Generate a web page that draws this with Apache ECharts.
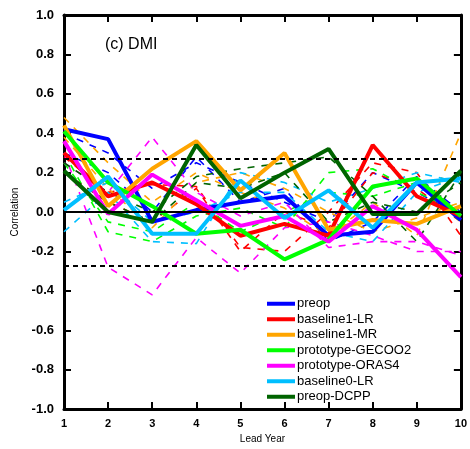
<!DOCTYPE html>
<html><head><meta charset="utf-8">
<script src="https://cdn.jsdelivr.net/npm/echarts@6/dist/echarts.min.js"></script>
<style>html,body{margin:0;padding:0;background:#fff}#c{width:470px;height:449px}</style>
</head><body><div id="c"></div>
<script>
const leadYears = [1,2,3,4,5,6,7,8,9,10];
const sigLevel = 0.265;
const panelTitle = '(c) DMI';

// thick lines (ensemble means)
const preop      = [0.42, 0.37, -0.05, 0.01, 0.05, 0.08, -0.12, -0.10, 0.15, -0.04];
const base1LR    = [0.30, 0.08, 0.15, 0.04, -0.12, -0.06, -0.12, 0.34, 0.08, -0.02];
const base1MR    = [0.44, 0.03, 0.22, 0.36, 0.11, 0.30, -0.09, -0.04, -0.06, 0.03];
const protoGEC   = [0.41, 0.15, 0.03, -0.11, -0.09, -0.24, -0.14, 0.13, 0.17, -0.02];
const protoORAS  = [0.36, -0.01, 0.19, 0.06, -0.07, -0.02, -0.15, 0.03, -0.09, -0.33];
const base0LR    = [0.01, 0.18, -0.11, -0.11, 0.16, -0.03, 0.11, -0.08, 0.15, 0.17];
const preopDCPP  = [0.21, 0.00, -0.05, 0.34, 0.07, 0.20, 0.32, -0.01, -0.01, 0.21];

// thin dashed lines (members)
const preopM1     = [0.40, 0.30, 0.12, 0.25, 0.15, 0.05, -0.05, 0.20, 0.10, -0.02];
const preopM2     = [0.30, 0.20, 0.00, 0.28, 0.05, 0.12, -0.15, -0.05, 0.18, 0.00];
const base1LRM1   = [0.28, 0.10, 0.14, 0.13, -0.18, -0.20, 0.00, 0.25, 0.20, -0.12];
const base1LRM2   = [0.20, 0.05, -0.05, 0.12, -0.20, 0.00, -0.08, 0.20, 0.12, -0.05];
const base1MRM1   = [0.48, 0.25, 0.05, 0.20, 0.10, 0.02, -0.12, 0.05, -0.12, 0.40];
const base1MRM2   = [0.38, 0.12, -0.08, 0.15, 0.20, 0.12, 0.00, -0.10, -0.03, 0.05];
const protoGECM1  = [0.30, -0.10, -0.15, -0.02, 0.02, -0.08, 0.20, 0.22, 0.10, 0.00];
const protoGECM2  = [0.25, -0.05, -0.10, 0.05, -0.10, 0.00, 0.10, 0.08, 0.15, -0.05];
const protoORASM1 = [0.30, -0.28, -0.42, -0.13, -0.31, -0.08, -0.05, -0.12, -0.20, -0.20];
const protoORASM2 = [0.25, 0.10, 0.38, 0.10, -0.02, 0.05, -0.18, -0.15, -0.15, -0.22];
const base0LRM1   = [-0.10, 0.10, -0.15, -0.16, 0.20, 0.15, 0.05, 0.12, 0.20, 0.15];
const base0LRM2   = [0.05, 0.15, -0.05, 0.00, 0.10, 0.10, -0.10, -0.15, 0.10, 0.18];
const dcppM1      = [0.25, 0.10, 0.00, 0.18, 0.22, 0.25, 0.28, 0.08, -0.15, 0.20];
const dcppM2      = [0.20, 0.05, -0.05, 0.15, 0.12, 0.20, -0.05, 0.05, 0.00, 0.15];

const names  = ['preop','baseline1-LR','baseline1-MR','prototype-GECOO2','prototype-ORAS4','baseline0-LR','preop-DCPP'];
const colors = ['#0000ff','#ff0000','#ffa500','#00ff00','#ff00ff','#00bfff','#006400'];
const means  = [preop, base1LR, base1MR, protoGEC, protoORAS, base0LR, preopDCPP];
const members = [[preopM1,preopM2],[base1LRM1,base1LRM2],[base1MRM1,base1MRM2],[protoGECM1,protoGECM2],[protoORASM1,protoORASM2],[base0LRM1,base0LRM2],[dcppM1,dcppM2]];

const pts = arr => leadYears.map((x,i)=>[x, arr[i]]);
const FONT = 'Liberation Sans';
const series = [];
members.forEach((ms, k) => ms.forEach((m, j) => series.push({
  name: names[k] + '_m' + j, type: 'line', data: pts(m), showSymbol: false, symbol: 'none',
  silent: true, z: 2,
  lineStyle: { color: colors[k], width: 1.6, type: [7, 7] }
})));
series.push({
  name: 'ref', type: 'line', data: [], silent: true, z: 3,
  markLine: {
    silent: true, symbol: 'none', label: { show: false },
    data: [
      { yAxis: 0, lineStyle: { color: '#000', width: 2, type: 'solid' } },
      { yAxis: sigLevel, lineStyle: { color: '#000', width: 2, type: [5, 4] } },
      { yAxis: -sigLevel, lineStyle: { color: '#000', width: 2, type: [5, 4] } }
    ]
  }
});
means.forEach((m, k) => series.push({
  name: names[k], type: 'line', data: pts(m), showSymbol: false, symbol: 'none', z: 4,
  itemStyle: { color: colors[k] },
  lineStyle: { color: colors[k], width: 4 }
}));

const axisCommon = {
  axisLine: { show: true, onZero: false, lineStyle: { color: '#000', width: 3 } },
  axisTick: { show: true, inside: true, length: 7, lineStyle: { color: '#000', width: 2 } },
  splitLine: { show: false }
};
const chart = echarts.init(document.getElementById('c'), null, { renderer: 'canvas' });
chart.setOption({
  animation: false,
  backgroundColor: '#fff',
  textStyle: { fontFamily: FONT },
  grid: { left: 64, top: 15, right: 5, bottom: 34.5, containLabel: false },
  title: { text: panelTitle, left: 100, top: 32, textStyle: { fontFamily: FONT, fontSize: 16, fontWeight: 'normal', color: '#000' } },
  legend: {
    data: names, orient: 'vertical', left: 262, top: 292, icon: 'rect',
    itemWidth: 28, itemHeight: 4, itemGap: 2,
    textStyle: { fontFamily: FONT, fontSize: 13, color: '#000', lineHeight: 13.5, padding: [0, 0, 0, -3] }
  },
  xAxis: [
    Object.assign({}, axisCommon, {
      type: 'value', min: 1, max: 10, interval: 1, position: 'bottom',
      name: 'Lead Year', nameLocation: 'middle', nameGap: 24,
      nameTextStyle: { fontFamily: FONT, fontSize: 10, color: '#000' },
      axisLabel: { fontFamily: FONT, fontSize: 11, fontWeight: 'bold', color: '#000', margin: 9 }
    }),
    Object.assign({}, axisCommon, {
      type: 'value', min: 1, max: 10, interval: 1, position: 'top', axisLabel: { show: false }
    })
  ],
  yAxis: [
    Object.assign({}, axisCommon, {
      type: 'value', min: -1, max: 1, interval: 0.2, position: 'left',
      name: 'Correlation', nameLocation: 'middle', nameGap: 40, nameRotate: 90,
      nameTextStyle: { fontFamily: FONT, fontSize: 10, color: '#000' },
      axisLabel: { fontFamily: FONT, fontSize: 13, fontWeight: 'bold', color: '#000', margin: 10,
        formatter: v => (Math.abs(v) < 1e-9 ? 0 : v).toFixed(1) }
    }),
    Object.assign({}, axisCommon, {
      type: 'value', min: -1, max: 1, interval: 0.2, position: 'right', axisLabel: { show: false }
    })
  ],
  series: series
});
</script>
</body></html>
